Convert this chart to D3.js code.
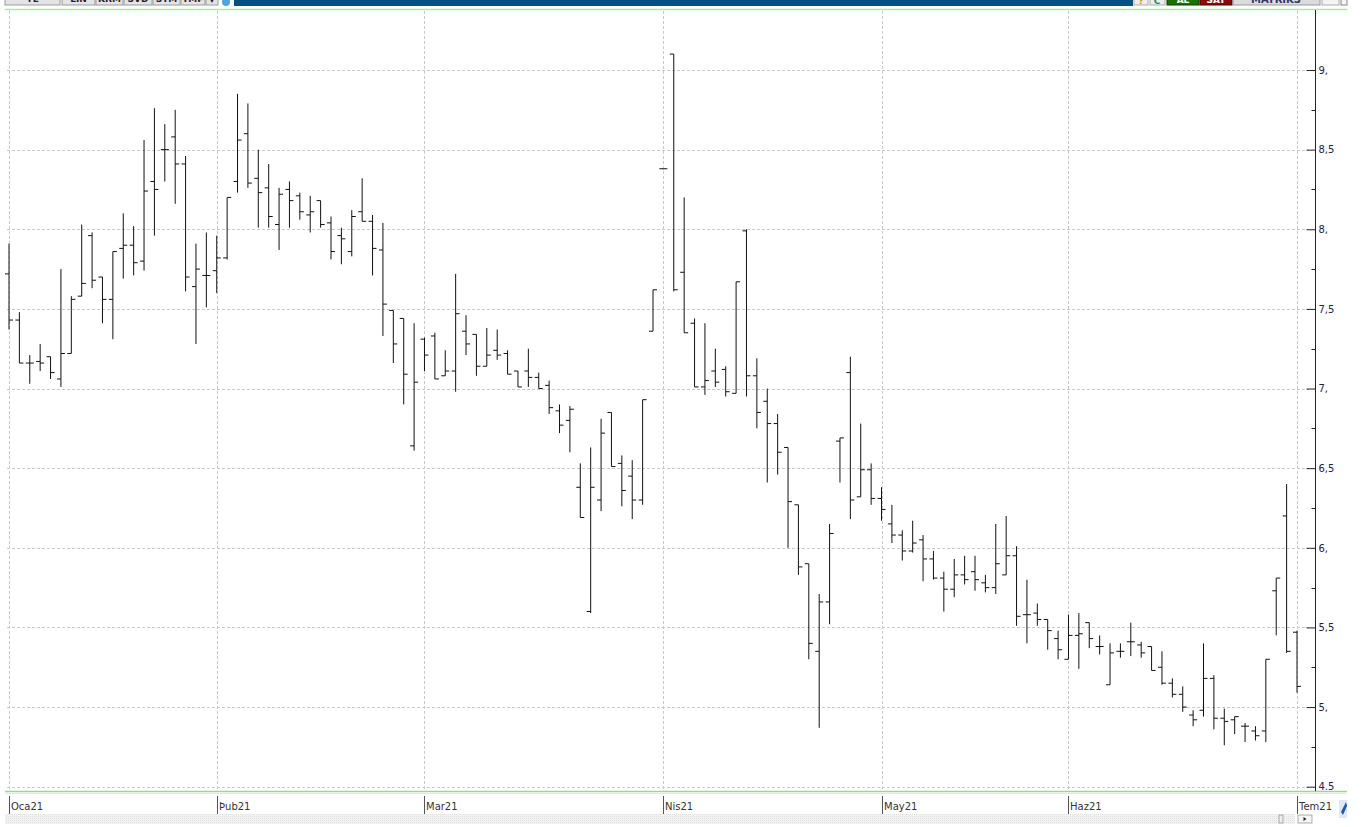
<!DOCTYPE html>
<html><head><meta charset="utf-8">
<script src="https://cdn.jsdelivr.net/npm/d3@7"></script>
<style>html,body{margin:0;padding:0;background:#fff;overflow:hidden}svg{display:block}</style>
</head><body>
<svg id="c" width="1368" height="827"></svg>
<script>
// ---- data (trading-day index 0..124, Jan 4 2021 .. Jul 1 2021) ----
const opens  = [7.72,7.43,7.16,7.17,7.20,7.06,7.22,7.58,7.96,7.70,7.56,7.88,7.90,7.80,8.30,8.50,8.58,8.41,7.64,7.71,
                7.74,7.82,8.30,8.60,8.32,8.26,8.03,8.25,8.21,8.09,8.18,8.04,7.96,7.86,8.11,8.05,7.87,7.49,7.44,6.64,
                7.31,7.33,7.08,7.11,7.36,7.34,7.14,7.24,7.22,7.11,7.11,7.07,7.02,6.86,6.80,6.38,5.60,6.30,6.85,6.53,
                6.45,6.30,7.36,8.38,9.10,7.73,7.41,7.01,7.11,7.12,6.97,7.99,7.08,6.92,6.78,6.63,6.27,5.90,5.35,5.66,
                6.67,7.10,6.32,6.49,6.31,6.15,6.08,5.98,6.05,5.93,5.81,5.74,5.83,5.85,5.78,5.75,5.83,5.95,5.58,5.59,
                5.55,5.43,5.30,5.45,5.53,5.38,5.14,5.35,5.41,5.39,5.38,5.25,5.15,5.08,4.95,4.98,5.18,4.93,4.92,4.88,
                4.85,4.85,5.73,6.20,5.47];
const highs  = [7.91,7.48,7.21,7.28,7.20,7.75,7.58,8.03,7.98,7.70,7.86,8.10,8.02,8.56,8.76,8.66,8.75,8.46,7.91,7.98,
                7.96,8.20,8.85,8.79,8.50,8.41,8.26,8.30,8.23,8.21,8.18,8.08,8.01,8.12,8.32,8.09,8.04,7.49,7.44,7.41,
                7.32,7.35,7.24,7.72,7.46,7.34,7.38,7.37,7.24,7.11,7.25,7.10,7.05,6.90,6.89,6.53,6.63,6.81,6.85,6.58,
                6.55,6.93,7.62,8.38,9.10,8.20,7.44,7.41,7.25,7.14,7.67,8.00,7.19,7.00,6.84,6.63,6.27,5.90,5.71,6.15,
                6.69,7.20,6.78,6.53,6.38,6.27,6.11,6.17,6.08,5.98,5.85,5.93,5.95,5.95,5.83,6.15,6.20,6.01,5.80,5.65,
                5.55,5.48,5.58,5.59,5.53,5.45,5.40,5.40,5.53,5.41,5.38,5.35,5.18,5.13,4.98,5.40,5.20,4.99,4.94,4.90,
                4.88,5.30,5.81,6.40,5.48];
const lows   = [7.37,7.16,7.03,7.11,7.06,7.01,7.22,7.58,7.63,7.41,7.31,7.69,7.71,7.74,7.96,8.30,8.16,7.61,7.28,7.51,
                7.60,7.81,8.23,8.26,8.01,8.01,7.87,8.01,8.06,7.98,8.01,7.81,7.78,7.83,8.05,7.71,7.33,7.16,6.90,6.61,
                7.11,7.06,7.08,6.98,7.21,7.08,7.14,7.18,7.09,7.01,7.01,7.00,6.84,6.72,6.60,6.19,5.59,6.23,6.51,6.26,
                6.18,6.27,7.36,8.38,7.61,7.35,7.01,6.96,7.01,6.95,6.97,6.95,6.75,6.41,6.46,6.00,5.83,5.30,4.87,5.52,
                6.41,6.18,6.32,6.27,6.17,6.03,5.92,5.97,5.79,5.80,5.60,5.69,5.77,5.73,5.72,5.71,5.83,5.51,5.40,5.51,
                5.36,5.30,5.30,5.24,5.37,5.33,5.14,5.31,5.32,5.31,5.23,5.14,5.06,4.97,4.88,4.94,4.86,4.76,4.83,4.78,
                4.79,4.78,5.45,5.34,5.09];
const closes = [7.43,7.16,7.16,7.16,7.10,7.22,7.56,7.66,7.68,7.56,7.86,7.90,7.79,8.24,8.25,8.50,8.41,7.70,7.75,7.71,
                7.82,8.20,8.56,8.29,8.23,8.08,8.22,8.18,8.11,8.11,8.03,7.86,7.94,8.08,8.05,7.88,7.53,7.28,7.09,7.04,
                7.21,7.06,7.11,7.47,7.28,7.14,7.21,7.21,7.09,7.01,7.07,7.00,6.88,6.77,6.87,6.19,6.38,6.72,6.51,6.36,
                6.30,6.93,7.62,8.38,7.62,7.35,7.01,7.05,7.04,6.98,7.67,7.08,6.85,6.78,6.60,6.29,5.88,5.40,5.66,6.09,
                6.69,6.30,6.49,6.31,6.24,6.08,5.98,6.03,5.93,5.81,5.74,5.83,5.80,5.80,5.75,5.90,5.95,5.57,5.58,5.55,
                5.48,5.36,5.45,5.46,5.43,5.38,5.34,5.35,5.41,5.34,5.23,5.15,5.08,5.00,4.92,5.18,4.93,4.91,4.94,4.88,
                4.82,5.30,5.81,5.35,5.13];
const monthLabels   = ["Oca21","Þub21","Mar21","Nis21","May21","Haz21","Tem21"];
const monthStartIdx = [0, 20, 40, 63, 84, 102, 124];
const yTickValues   = [4.5,5,5.5,6,6.5,7,7.5,8,8.5,9];
const yTickLabels   = ["4.5","5,","5,5","6,","6,5","7,","7,5","8,","8,5","9,"];
const yMinorValues  = [4.75,5.25,5.75,6.25,6.75,7.25,7.75,8.25,8.75];

const bars = opens.map((o,i)=>({i, o, h:highs[i], l:lows[i], c:closes[i]}));

const svg = d3.select("#c");
const x = d3.scaleLinear().domain([0,124]).range([9,1297]);
const y = d3.scaleLinear().domain([4.5,9]).range([786.7,70]);
const font = "'DejaVu Sans', Verdana, sans-serif";

// ---- top toolbar (cut off) ----
const tb = svg.append("g");
tb.append("rect").attr("x",0).attr("y",0).attr("width",1368).attr("height",7).attr("fill","#fff");
const btns = [[5,60,"YE"],[62,95,"LIN"],[96,123,"KRM"],[124,152,"SVD"],[153,180,"STM"],[181,205,"TMP"],[206,218,"▼"]];
btns.forEach(b=>{
  tb.append("rect").attr("x",b[0]).attr("y",-8).attr("width",b[1]-b[0]).attr("height",13)
    .attr("fill","#e4e4e4").attr("stroke","#9a9a9a").attr("stroke-width",1);
  tb.append("text").attr("x",(b[0]+b[1])/2).attr("y",2).attr("text-anchor","middle")
    .attr("font-family",font).attr("font-size",9).attr("font-weight","bold").attr("fill","#223").text(b[2]);
});
tb.append("circle").attr("cx",226).attr("cy",2).attr("r",4).attr("fill","#4fa3e0");
tb.append("rect").attr("x",234).attr("y",0).attr("width",899).attr("height",6).attr("fill","#07507e");
tb.append("rect").attr("x",1134).attr("y",-6).attr("width",14).attr("height",11).attr("fill","#eee").attr("stroke","#aaa");
tb.append("text").attr("x",1141).attr("y",4).attr("text-anchor","middle").attr("font-size",9).attr("font-family",font).attr("font-weight","bold").attr("fill","#d4a000").text("?");
tb.append("rect").attr("x",1150).attr("y",-6).attr("width",15).attr("height",11).attr("fill","#eee").attr("stroke","#aaa");
tb.append("text").attr("x",1157).attr("y",4).attr("text-anchor","middle").attr("font-size",9).attr("font-family",font).attr("font-weight","bold").attr("fill","#1a8a60").text("C");
tb.append("rect").attr("x",1167).attr("y",-6).attr("width",32).attr("height",11).attr("fill","#1d6f08").attr("stroke","#0c3a00");
tb.append("text").attr("x",1183).attr("y",3).attr("text-anchor","middle").attr("font-size",9).attr("font-family",font).attr("font-weight","bold").attr("fill","#fff").text("AL");
tb.append("rect").attr("x",1200).attr("y",-6).attr("width",32).attr("height",11).attr("fill","#8a0a0a").attr("stroke","#4a0000");
tb.append("text").attr("x",1216).attr("y",3).attr("text-anchor","middle").attr("font-size",9).attr("font-family",font).attr("font-weight","bold").attr("fill","#fff").text("SAT");
tb.append("rect").attr("x",1233).attr("y",-6).attr("width",87).attr("height",11).attr("fill","#dcdcdc").attr("stroke","#999");
tb.append("text").attr("x",1276).attr("y",3).attr("text-anchor","middle").attr("font-size",10).attr("font-family",font).attr("font-weight","bold").attr("fill","#33336a").text("MATRIKS");
tb.append("rect").attr("x",1322).attr("y",-6).attr("width",17).attr("height",11).attr("fill","#f4f4f4").attr("stroke","#aaa");
tb.append("rect").attr("x",1341).attr("y",-6).attr("width",6).attr("height",11).attr("fill","#f4f4f4").attr("stroke","#888");

// green frame lines
svg.append("line").attr("x1",5).attr("x2",1347).attr("y1",9.5).attr("y2",9.5).attr("stroke","#a4eea4").attr("stroke-width",1.5);
svg.append("line").attr("x1",5).attr("x2",1347).attr("y1",791.5).attr("y2",791.5).attr("stroke","#8ede8e").attr("stroke-width",1.5);
svg.append("line").attr("x1",5).attr("x2",1347).attr("y1",793.5).attr("y2",793.5).attr("stroke","#e4e4e4").attr("stroke-width",1);

// ---- grid ----
const grid = svg.append("g");
grid.selectAll("line.h").data(yTickValues).join("line").attr("class","h")
  .attr("x1",7).attr("x2",1309).attr("y1",d=>Math.round(y(d))+0.5).attr("y2",d=>Math.round(y(d))+0.5)
  .attr("stroke","#c9c9c9").attr("stroke-dasharray","3,2");
grid.selectAll("line.v").data(monthStartIdx).join("line").attr("class","v")
  .attr("x1",d=>Math.round(x(d))+0.5).attr("x2",d=>Math.round(x(d))+0.5).attr("y1",11).attr("y2",790)
  .attr("stroke","#c9c9c9").attr("stroke-dasharray","3,2");

// ---- right axis ----
const axisX = 1315.5;
const yAxis = d3.axisRight(y).tickValues(yTickValues).tickSize(0).tickFormat((d,i)=>yTickLabels[i]);
const ag = svg.append("g").attr("transform",`translate(${axisX},0)`).call(yAxis);
ag.select(".domain").attr("d","M0,10V791").attr("stroke","#222");
ag.selectAll(".tick text").attr("x",3).attr("font-family",font).attr("font-size",10).attr("fill","#22224a");
ag.selectAll(".tick").append("line").attr("x1",-9).attr("x2",0).attr("stroke","#222");
svg.append("g").selectAll("line").data(yMinorValues).join("line")
  .attr("x1",axisX-4).attr("x2",axisX).attr("y1",d=>Math.round(y(d))+0.5).attr("y2",d=>Math.round(y(d))+0.5)
  .attr("stroke","#222");

// ---- bottom month axis ----
const mg = svg.append("g");
mg.selectAll("line").data(monthStartIdx).join("line")
  .attr("x1",d=>Math.round(x(d))+0.5).attr("x2",d=>Math.round(x(d))+0.5).attr("y1",796).attr("y2",814)
  .attr("stroke","#555");
mg.selectAll("text").data(monthStartIdx).join("text")
  .attr("x",d=>Math.round(x(d))+2).attr("y",810).attr("font-family",font).attr("font-size",10).attr("fill","#333")
  .text((d,i)=>monthLabels[i]);

// scrollbar strip
const pat = svg.append("defs").append("pattern").attr("id","hatch").attr("width",2).attr("height",2).attr("patternUnits","userSpaceOnUse");
pat.append("rect").attr("width",2).attr("height",2).attr("fill","#f2f2f2");
pat.append("rect").attr("width",1).attr("height",1).attr("fill","#e0e0e0");
svg.append("rect").attr("x",5).attr("y",814).attr("width",1290).attr("height",10).attr("fill","url(#hatch)");
svg.append("rect").attr("x",1279).attr("y",815).attr("width",4).attr("height",8).attr("fill","#eee").attr("stroke","#999").attr("stroke-width",0.8);
svg.append("rect").attr("x",1298).attr("y",815).attr("width",14).attr("height",8).attr("fill","#f6f6f6").attr("stroke","#999").attr("stroke-width",0.8);
svg.append("path").attr("d","M1303.5,817 L1306.5,819 L1303.5,821 Z").attr("fill","#222");
svg.append("path").attr("d","M1339,800 L1347,800 L1347,818 L1339,818 Z").attr("fill","#dfe8f4");
svg.append("path").attr("d","M1341,812 L1346,802 L1347,806 L1343,815 Z").attr("fill","#1d5aa8");

// ---- OHLC bars ----
const bg = svg.append("g").attr("stroke","#111").attr("stroke-width",1).attr("fill","none");
const tick = 4;
bg.selectAll("line.hl").data(bars).join("line").attr("class","hl")
  .attr("x1",d=>x(d.i)).attr("x2",d=>x(d.i)).attr("y1",d=>y(d.h)).attr("y2",d=>y(d.l)===y(d.h)?y(d.h)+0.5:y(d.l));
bg.selectAll("line.o").data(bars).join("line").attr("class","o")
  .attr("x1",d=>x(d.i)-tick).attr("x2",d=>x(d.i)).attr("y1",d=>y(d.o)).attr("y2",d=>y(d.o));
bg.selectAll("line.c").data(bars).join("line").attr("class","c")
  .attr("x1",d=>x(d.i)).attr("x2",d=>x(d.i)+tick).attr("y1",d=>y(d.c)).attr("y2",d=>y(d.c));
</script>
</body></html>
